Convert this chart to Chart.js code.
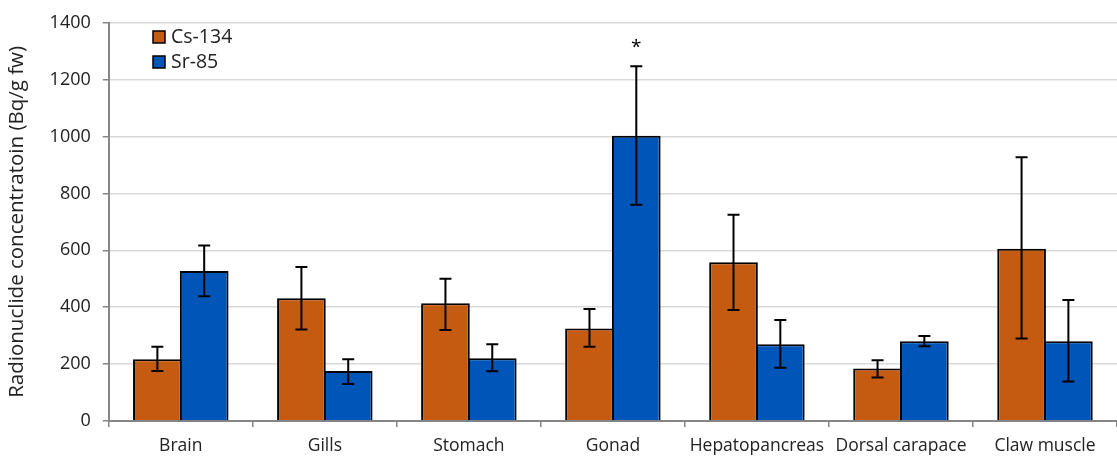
<!DOCTYPE html>
<html>
<head>
<meta charset="utf-8">
<script src="https://cdn.jsdelivr.net/npm/chart.js@4/dist/chart.umd.min.js"></script>
<style>
    html, body { margin: 0; padding: 0; background: #fff; }
    #wrap { width: 1117px; height: 457px; position: relative; }
</style>
</head>
<body>
<div id="wrap"><canvas id="chart"></canvas></div>
<script>
const tissues = ["Brain", "Gills", "Stomach", "Gonad", "Hepatopancreas", "Dorsal carapace", "Claw muscle"];
const csValues = [217, 432, 414, 325, 558, 185, 606];
const csLow = [176, 322, 320, 261, 390, 153, 290];
const csHigh = [261, 541, 500, 394, 725, 214, 927];
const srValues = [527, 176, 221, 1003, 270, 280, 280];
const srLow = [439, 130, 175, 760, 187, 263, 139];
const srHigh = [617, 217, 270, 1247, 355, 299, 425];
const significant = ["", "", "", "*", "", "", ""];
const yTicks = [0, 200, 400, 600, 800, 1000, 1200, 1400];

const csColor = "#C55A11";
const srColor = "#0055B8";
const fontFam = "'Open Sans', sans-serif";

// error bars, significance marks and the legend
const extras = {
    id: "extras",
    afterDatasetsDraw(chart) {
        const ctx = chart.ctx;
        const y = chart.scales.y;
        const errs = [[csLow, csHigh], [srLow, srHigh]];
        ctx.save();
        ctx.strokeStyle = "#000";
        ctx.lineWidth = 2;
        errs.forEach((pair, di) => {
            chart.getDatasetMeta(di).data.forEach((bar, i) => {
                const lo = y.getPixelForValue(pair[0][i]);
                const hi = y.getPixelForValue(pair[1][i]);
                ctx.beginPath();
                ctx.moveTo(bar.x, lo);
                ctx.lineTo(bar.x, hi);
                ctx.moveTo(bar.x - 6, lo);
                ctx.lineTo(bar.x + 6, lo);
                ctx.moveTo(bar.x - 6, hi);
                ctx.lineTo(bar.x + 6, hi);
                ctx.stroke();
                if (di === 1 && significant[i]) {
                    ctx.fillStyle = "#000";
                    ctx.font = "19px " + fontFam;
                    ctx.textAlign = "center";
                    ctx.textBaseline = "middle";
                    ctx.fillText(significant[i], bar.x, hi - 19);
                }
            });
        });

        // legend
        const items = [["Cs-134", csColor], ["Sr-85", srColor]];
        ctx.font = "19.5px " + fontFam;
        ctx.textAlign = "left";
        ctx.textBaseline = "middle";
        items.forEach((it, k) => {
            const cy = 37 + k * 25;
            ctx.fillStyle = it[1];
            ctx.fillRect(153, cy - 6, 12, 12);
            ctx.lineWidth = 1.5;
            ctx.strokeStyle = "#000";
            ctx.strokeRect(153, cy - 6, 12, 12);
            ctx.fillStyle = "#222";
            ctx.fillText(it[0], 171, cy);
        });
        ctx.restore();
    }
};

new Chart(document.getElementById("chart"), {
    type: "bar",
    data: {
        labels: tissues,
        datasets: [
            {
                label: "Cs-134",
                data: csValues,
                backgroundColor: csColor,
                borderColor: "#000",
                borderWidth: 2,
                borderSkipped: "bottom",
                categoryPercentage: 0.65,
                barPercentage: 1.04
            },
            {
                label: "Sr-85",
                data: srValues,
                backgroundColor: srColor,
                borderColor: "#000",
                borderWidth: 2,
                borderSkipped: "bottom",
                categoryPercentage: 0.65,
                barPercentage: 1.04
            }
        ]
    },
    options: {
        responsive: true,
        maintainAspectRatio: false,
        animation: false,
        layout: { padding: { top: 12, right: 0, left: 5, bottom: -9 } },
        plugins: {
            legend: { display: false },
            tooltip: { enabled: false }
        },
        scales: {
            x: {
                offset: true,
                grid: {
                    offset: true,
                    drawOnChartArea: false,
                    drawTicks: true,
                    tickLength: 6,
                    color: "#868686",
                    lineWidth: 1.5
                },
                border: { color: "#868686", width: 2 },
                ticks: {
                    color: "#222",
                    font: { family: fontFam, size: 17.5 },
                    padding: 9,
                    maxRotation: 0,
                    autoSkip: false
                }
            },
            y: {
                min: 0,
                max: 1400,
                afterBuildTicks: axis => { axis.ticks = yTicks.map(v => ({ value: v })); },
                grid: {
                    color: "#d9d9d9",
                    lineWidth: 1.5,
                    tickLength: 6,
                    tickColor: "#868686"
                },
                border: { color: "#868686", width: 2 },
                ticks: {
                    color: "#222",
                    font: { family: fontFam, size: 18 },
                    padding: 12,
                    callback: v => String(v)
                },
                title: {
                    display: true,
                    text: "Radionuclide concentratoin (Bq/g fw)",
                    color: "#222",
                    font: { family: fontFam, size: 20.5 },
                    padding: { top: 0, bottom: 8 }
                }
            }
        }
    },
    plugins: [extras]
});
</script>
</body>
</html>
